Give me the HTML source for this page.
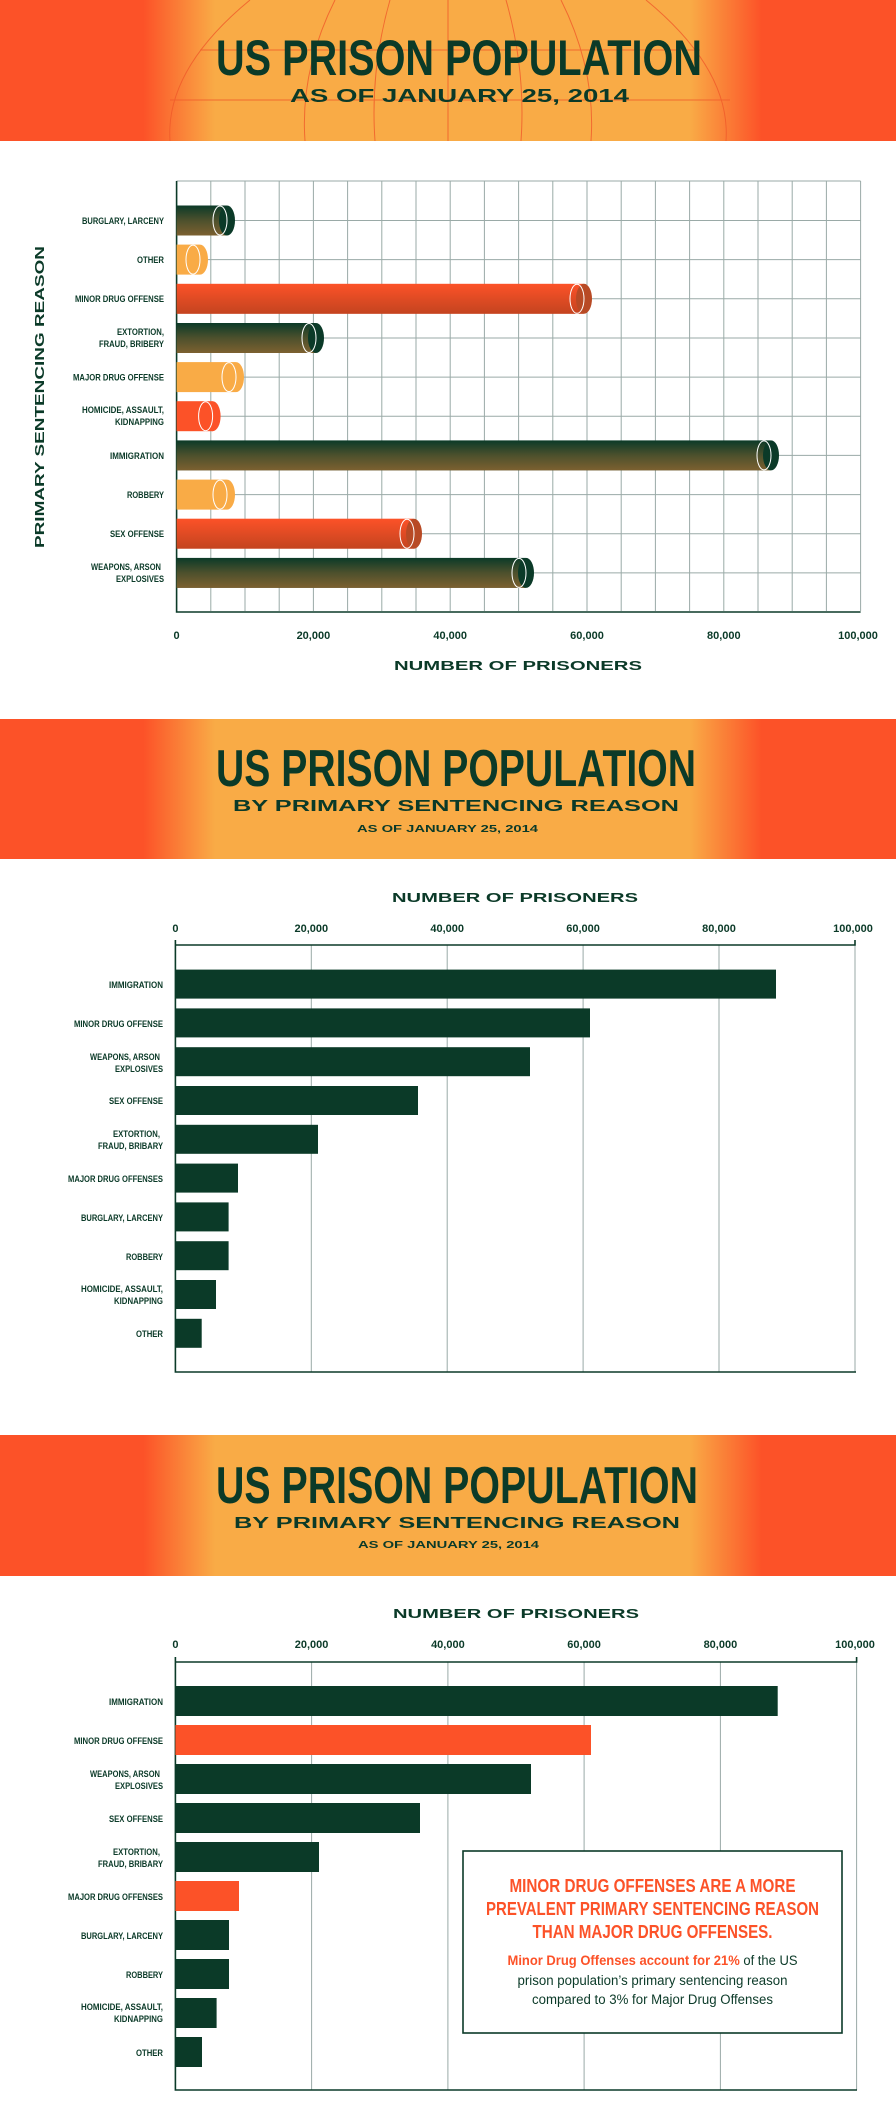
<!DOCTYPE html>
<html><head><meta charset="utf-8"><style>
html,body{margin:0;padding:0;background:#fff;}
svg{display:block;}
.t{font-family:"Liberation Sans Narrow","Liberation Sans",sans-serif;font-weight:bold;fill:#0b3a28;}
.w{font-family:"Liberation Sans",sans-serif;font-weight:bold;fill:#0b3a28;}
.l{font-family:"Liberation Sans Narrow","Liberation Sans",sans-serif;font-weight:bold;fill:#0b3a28;font-size:9.5px;text-anchor:end;}
.k{font-family:"Liberation Sans Narrow","Liberation Sans",sans-serif;font-weight:bold;fill:#0b3a28;font-size:11px;text-anchor:middle;}
</style></head><body>
<svg width="896" height="2123" viewBox="0 0 896 2123" xmlns="http://www.w3.org/2000/svg">
<defs>
<linearGradient id="hdr" x1="0" x2="1" y1="0" y2="0">
<stop offset="0" stop-color="#fc5228"/><stop offset="0.16" stop-color="#fc5228"/>
<stop offset="0.24" stop-color="#f9ab46"/><stop offset="0.77" stop-color="#f9ab46"/>
<stop offset="0.85" stop-color="#fc5228"/><stop offset="1" stop-color="#fc5228"/>
</linearGradient>
<linearGradient id="sh" x1="0" x2="0" y1="0" y2="1">
<stop offset="0" stop-color="#c87a35" stop-opacity="0"/><stop offset="0.5" stop-color="#c87a35" stop-opacity="0.35"/><stop offset="1" stop-color="#c87a35" stop-opacity="0.6"/>
</linearGradient>
<linearGradient id="sh2" x1="0" x2="0" y1="0" y2="1">
<stop offset="0" stop-color="#5a2a10" stop-opacity="0"/><stop offset="1" stop-color="#5a2a10" stop-opacity="0.35"/>
</linearGradient>
</defs>

<!-- SECTION 1 HEADER -->
<rect x="0" y="0" width="896" height="141" fill="url(#hdr)"/>
<g stroke="#f05a2a" stroke-width="1" fill="none" opacity="0.8">
<path d="M448 0 V141"/><path d="M335 0 Q300 70 305 141"/><path d="M561 0 Q596 70 591 141"/>
<path d="M250 0 Q165 70 170 141"/><path d="M646 0 Q731 70 726 141"/>
<path d="M200 50 H700"/><path d="M170 100 H730"/>
<path d="M390 0 Q370 70 375 141"/><path d="M506 0 Q526 70 521 141"/>
</g>
<text class="t" x="216" y="75" font-size="50" textLength="486" lengthAdjust="spacingAndGlyphs">US PRISON POPULATION</text>
<text class="w" x="290" y="102" font-size="18" textLength="339" lengthAdjust="spacingAndGlyphs">AS OF JANUARY 25, 2014</text>

<!-- CHART 1 grid -->
<g stroke="#9aaaa7" stroke-width="1">
<path d="M176.6 181 H860.6"/>
<path d="M210.8 181V611M245 181V611M279.2 181V611M313.4 181V611M347.6 181V611M381.8 181V611M416 181V611M450.2 181V611M484.4 181V611M518.6 181V611M552.8 181V611M587 181V611M621.2 181V611M655.4 181V611M689.6 181V611M723.8 181V611M758 181V611M792.2 181V611M826.4 181V611M860.6 181V611"/>
<path d="M176.6 220.5H860.6M176.6 259.6H860.6M176.6 298.8H860.6M176.6 338H860.6M176.6 377.1H860.6M176.6 416.2H860.6M176.6 455.4H860.6M176.6 494.6H860.6M176.6 533.7H860.6M176.6 572.9H860.6"/>
</g>
<path d="M176.6 181 V612 H860.6" stroke="#0b3a28" stroke-width="1.6" fill="none"/>

<g>
<rect x="176.6" y="205.5" width="50" height="30" fill="#0b3a28"/><rect x="176.6" y="205.5" width="50" height="30" fill="url(#sh)"/>
<ellipse cx="227" cy="220.5" rx="8" ry="15" fill="#0b3a28"/><ellipse cx="220" cy="220.5" rx="7" ry="14.5" fill="none" stroke="#fff" stroke-width="1"/>

<rect x="176.6" y="244.6" width="23" height="30" fill="#f9ab46"/>
<ellipse cx="200" cy="259.6" rx="8" ry="15" fill="#f9ab46"/><ellipse cx="193" cy="259.6" rx="7" ry="14.5" fill="none" stroke="#fff" stroke-width="1"/>

<rect x="176.6" y="283.8" width="407" height="30" fill="#fc5228"/><rect x="176.6" y="283.8" width="407" height="30" fill="url(#sh2)"/>
<ellipse cx="584" cy="298.8" rx="8" ry="15" fill="#b84a25"/><ellipse cx="577" cy="298.8" rx="7" ry="14.5" fill="none" stroke="#fff" stroke-width="1"/>

<rect x="176.6" y="323" width="139" height="30" fill="#0b3a28"/><rect x="176.6" y="323" width="139" height="30" fill="url(#sh)"/>
<ellipse cx="316" cy="338" rx="8" ry="15" fill="#0b3a28"/><ellipse cx="309" cy="338" rx="7" ry="14.5" fill="none" stroke="#fff" stroke-width="1"/>

<rect x="176.6" y="362.1" width="59" height="30" fill="#f9ab46"/>
<ellipse cx="236" cy="377.1" rx="8" ry="15" fill="#f9ab46"/><ellipse cx="229" cy="377.1" rx="7" ry="14.5" fill="none" stroke="#fff" stroke-width="1"/>

<rect x="176.6" y="401.2" width="36" height="30" fill="#fc5228"/>
<ellipse cx="212.6" cy="416.2" rx="8" ry="15" fill="#fc5228"/><ellipse cx="205.6" cy="416.2" rx="7" ry="14.5" fill="none" stroke="#fff" stroke-width="1"/>

<rect x="176.6" y="440.4" width="594" height="30" fill="#0b3a28"/><rect x="176.6" y="440.4" width="594" height="30" fill="url(#sh)"/>
<ellipse cx="771" cy="455.4" rx="8" ry="15" fill="#0b3a28"/><ellipse cx="764" cy="455.4" rx="7" ry="14.5" fill="none" stroke="#fff" stroke-width="1"/>

<rect x="176.6" y="479.6" width="50" height="30" fill="#f9ab46"/>
<ellipse cx="227" cy="494.6" rx="8" ry="15" fill="#f9ab46"/><ellipse cx="220" cy="494.6" rx="7" ry="14.5" fill="none" stroke="#fff" stroke-width="1"/>

<rect x="176.6" y="518.7" width="237" height="30" fill="#fc5228"/><rect x="176.6" y="518.7" width="237" height="30" fill="url(#sh2)"/>
<ellipse cx="414" cy="533.7" rx="8" ry="15" fill="#b84a25"/><ellipse cx="407" cy="533.7" rx="7" ry="14.5" fill="none" stroke="#fff" stroke-width="1"/>

<rect x="176.6" y="557.9" width="349" height="30" fill="#0b3a28"/><rect x="176.6" y="557.9" width="349" height="30" fill="url(#sh)"/>
<ellipse cx="526" cy="572.9" rx="8" ry="15" fill="#0b3a28"/><ellipse cx="519" cy="572.9" rx="7" ry="14.5" fill="none" stroke="#fff" stroke-width="1"/>
</g>

<g>
<text x="164" y="224" class="l" textLength="82" lengthAdjust="spacingAndGlyphs">BURGLARY, LARCENY</text>
<text x="164" y="263" class="l" textLength="27" lengthAdjust="spacingAndGlyphs">OTHER</text>
<text x="164" y="302" class="l" textLength="89" lengthAdjust="spacingAndGlyphs">MINOR DRUG OFFENSE</text>
<text x="164" y="335" class="l" textLength="47" lengthAdjust="spacingAndGlyphs">EXTORTION,</text><text x="164" y="347" class="l" textLength="65" lengthAdjust="spacingAndGlyphs">FRAUD, BRIBERY</text>
<text x="164" y="380.5" class="l" textLength="91" lengthAdjust="spacingAndGlyphs">MAJOR DRUG OFFENSE</text>
<text x="164" y="413" class="l" textLength="82" lengthAdjust="spacingAndGlyphs">HOMICIDE, ASSAULT,</text><text x="164" y="425" class="l" textLength="49" lengthAdjust="spacingAndGlyphs">KIDNAPPING</text>
<text x="164" y="459" class="l" textLength="54" lengthAdjust="spacingAndGlyphs">IMMIGRATION</text>
<text x="164" y="498" class="l" textLength="37" lengthAdjust="spacingAndGlyphs">ROBBERY</text>
<text x="164" y="537" class="l" textLength="54" lengthAdjust="spacingAndGlyphs">SEX OFFENSE</text>
<text x="161" y="570" class="l" textLength="70" lengthAdjust="spacingAndGlyphs">WEAPONS, ARSON</text><text x="164" y="582" class="l" textLength="48" lengthAdjust="spacingAndGlyphs">EXPLOSIVES</text>
</g>
<g>
<text class="k" x="176.6" y="639">0</text><text class="k" x="313.4" y="639">20,000</text><text class="k" x="450.2" y="639">40,000</text><text class="k" x="587" y="639">60,000</text><text class="k" x="723.8" y="639">80,000</text><text class="k" x="858" y="639">100,000</text>
</g>
<text class="w" x="394" y="670" font-size="13" textLength="248" lengthAdjust="spacingAndGlyphs">NUMBER OF PRISONERS</text>
<text class="w" transform="translate(44 548) rotate(-90)" x="0" y="0" font-size="13" textLength="302" lengthAdjust="spacingAndGlyphs">PRIMARY SENTENCING REASON</text>

<!-- SECTION 2 HEADER -->
<rect x="0" y="719" width="896" height="140" fill="url(#hdr)"/>
<text class="t" x="216" y="786" font-size="52" textLength="480" lengthAdjust="spacingAndGlyphs">US PRISON POPULATION</text>
<text class="w" x="233" y="811" font-size="16" textLength="446" lengthAdjust="spacingAndGlyphs">BY PRIMARY SENTENCING REASON</text>
<text class="w" x="357" y="832" font-size="10" textLength="181" lengthAdjust="spacingAndGlyphs">AS OF JANUARY 25, 2014</text>

<text class="w" x="392" y="902" font-size="13" textLength="246" lengthAdjust="spacingAndGlyphs">NUMBER OF PRISONERS</text>
<g>
<text class="k" x="175.4" y="932">0</text><text class="k" x="311.3" y="932">20,000</text><text class="k" x="447.2" y="932">40,000</text><text class="k" x="583.1" y="932">60,000</text><text class="k" x="719" y="932">80,000</text><text class="k" x="853" y="932">100,000</text>
</g>
<g stroke="#9aaaa7" stroke-width="1"><path d="M311.3 945V1372M447.2 945V1372M583.1 945V1372M719 945V1372M855 945V1372"/></g>
<path d="M175.4 940 V1372 H856 M175.4 945 H855 V940" stroke="#0b3a28" stroke-width="1.6" fill="none"/>
<g fill="#0b3a28">
<rect x="175.4" y="969.6" width="600.6" height="29"/>
<rect x="175.4" y="1008.4" width="414.6" height="29"/>
<rect x="175.4" y="1047.2" width="354.6" height="29"/>
<rect x="175.4" y="1086" width="242.6" height="29"/>
<rect x="175.4" y="1124.8" width="142.6" height="29"/>
<rect x="175.4" y="1163.6" width="62.6" height="29"/>
<rect x="175.4" y="1202.4" width="53.2" height="29"/>
<rect x="175.4" y="1241.2" width="53.2" height="29"/>
<rect x="175.4" y="1280" width="40.6" height="29"/>
<rect x="175.4" y="1318.8" width="26.3" height="29"/>
</g>
<g>
<text class="l" x="163" y="988" textLength="54" lengthAdjust="spacingAndGlyphs">IMMIGRATION</text>
<text class="l" x="163" y="1027" textLength="89" lengthAdjust="spacingAndGlyphs">MINOR DRUG OFFENSE</text>
<text class="l" x="160" y="1060" textLength="70" lengthAdjust="spacingAndGlyphs">WEAPONS, ARSON</text><text class="l" x="163" y="1072" textLength="48" lengthAdjust="spacingAndGlyphs">EXPLOSIVES</text>
<text class="l" x="163" y="1104" textLength="54" lengthAdjust="spacingAndGlyphs">SEX OFFENSE</text>
<text class="l" x="160" y="1137" textLength="47" lengthAdjust="spacingAndGlyphs">EXTORTION,</text><text class="l" x="163" y="1149" textLength="65" lengthAdjust="spacingAndGlyphs">FRAUD, BRIBARY</text>
<text class="l" x="163" y="1182" textLength="95" lengthAdjust="spacingAndGlyphs">MAJOR DRUG OFFENSES</text>
<text class="l" x="163" y="1221" textLength="82" lengthAdjust="spacingAndGlyphs">BURGLARY, LARCENY</text>
<text class="l" x="163" y="1260" textLength="37" lengthAdjust="spacingAndGlyphs">ROBBERY</text>
<text class="l" x="163" y="1292" textLength="82" lengthAdjust="spacingAndGlyphs">HOMICIDE, ASSAULT,</text><text class="l" x="163" y="1304" textLength="49" lengthAdjust="spacingAndGlyphs">KIDNAPPING</text>
<text class="l" x="163" y="1337" textLength="27" lengthAdjust="spacingAndGlyphs">OTHER</text>
</g>

<!-- SECTION 3 HEADER -->
<rect x="0" y="1435" width="896" height="141" fill="url(#hdr)"/>
<text class="t" x="216" y="1503" font-size="52" textLength="482" lengthAdjust="spacingAndGlyphs">US PRISON POPULATION</text>
<text class="w" x="234" y="1528" font-size="16" textLength="446" lengthAdjust="spacingAndGlyphs">BY PRIMARY SENTENCING REASON</text>
<text class="w" x="358" y="1548" font-size="10" textLength="181" lengthAdjust="spacingAndGlyphs">AS OF JANUARY 25, 2014</text>

<text class="w" x="393" y="1618" font-size="13" textLength="246" lengthAdjust="spacingAndGlyphs">NUMBER OF PRISONERS</text>
<g>
<text class="k" x="175.4" y="1648">0</text><text class="k" x="311.6" y="1648">20,000</text><text class="k" x="447.9" y="1648">40,000</text><text class="k" x="584.1" y="1648">60,000</text><text class="k" x="720.4" y="1648">80,000</text><text class="k" x="855" y="1648">100,000</text>
</g>
<g stroke="#9aaaa7" stroke-width="1"><path d="M311.6 1662V2090M447.9 1662V2090M584.1 1662V2090M720.4 1662V2090M856.6 1662V2090"/></g>
<path d="M175.4 1657 V2090 H857 M175.4 1662 H856.6 V1657" stroke="#0b3a28" stroke-width="1.6" fill="none"/>
<g>
<rect x="175.4" y="1686" width="602.3" height="30" fill="#0b3a28"/>
<rect x="175.4" y="1725" width="415.6" height="30" fill="#fc5228"/>
<rect x="175.4" y="1764" width="355.6" height="30" fill="#0b3a28"/>
<rect x="175.4" y="1803" width="244.6" height="30" fill="#0b3a28"/>
<rect x="175.4" y="1842" width="143.6" height="30" fill="#0b3a28"/>
<rect x="175.4" y="1881" width="63.6" height="30" fill="#fc5228"/>
<rect x="175.4" y="1920" width="53.6" height="30" fill="#0b3a28"/>
<rect x="175.4" y="1959" width="53.6" height="30" fill="#0b3a28"/>
<rect x="175.4" y="1998" width="41.2" height="30" fill="#0b3a28"/>
<rect x="175.4" y="2037" width="26.6" height="30" fill="#0b3a28"/>
</g>
<g>
<text class="l" x="163" y="1705" textLength="54" lengthAdjust="spacingAndGlyphs">IMMIGRATION</text>
<text class="l" x="163" y="1744" textLength="89" lengthAdjust="spacingAndGlyphs">MINOR DRUG OFFENSE</text>
<text class="l" x="160" y="1777" textLength="70" lengthAdjust="spacingAndGlyphs">WEAPONS, ARSON</text><text class="l" x="163" y="1789" textLength="48" lengthAdjust="spacingAndGlyphs">EXPLOSIVES</text>
<text class="l" x="163" y="1822" textLength="54" lengthAdjust="spacingAndGlyphs">SEX OFFENSE</text>
<text class="l" x="160" y="1855" textLength="47" lengthAdjust="spacingAndGlyphs">EXTORTION,</text><text class="l" x="163" y="1867" textLength="65" lengthAdjust="spacingAndGlyphs">FRAUD, BRIBARY</text>
<text class="l" x="163" y="1900" textLength="95" lengthAdjust="spacingAndGlyphs">MAJOR DRUG OFFENSES</text>
<text class="l" x="163" y="1939" textLength="82" lengthAdjust="spacingAndGlyphs">BURGLARY, LARCENY</text>
<text class="l" x="163" y="1978" textLength="37" lengthAdjust="spacingAndGlyphs">ROBBERY</text>
<text class="l" x="163" y="2010" textLength="82" lengthAdjust="spacingAndGlyphs">HOMICIDE, ASSAULT,</text><text class="l" x="163" y="2022" textLength="49" lengthAdjust="spacingAndGlyphs">KIDNAPPING</text>
<text class="l" x="163" y="2056" textLength="27" lengthAdjust="spacingAndGlyphs">OTHER</text>
</g>
<rect x="463" y="1851" width="379" height="182" fill="#fff" stroke="#0b3a28" stroke-width="1.6"/>
<g font-family="'Liberation Sans Narrow','Liberation Sans',sans-serif" font-weight="bold" fill="#fc5228" text-anchor="middle" font-size="18">
<text x="652.5" y="1892" textLength="286" lengthAdjust="spacingAndGlyphs">MINOR DRUG OFFENSES ARE A MORE</text>
<text x="652.5" y="1915" textLength="333" lengthAdjust="spacingAndGlyphs">PREVALENT PRIMARY SENTENCING REASON</text>
<text x="652.5" y="1938" textLength="240" lengthAdjust="spacingAndGlyphs">THAN MAJOR DRUG OFFENSES.</text>
</g>
<g font-family="'Liberation Sans Narrow','Liberation Sans',sans-serif" font-size="13.5" fill="#0b3a28" text-anchor="middle">
<text x="652.5" y="1965" textLength="290" lengthAdjust="spacingAndGlyphs"><tspan fill="#fc5228" font-weight="bold">Minor Drug Offenses account for 21%</tspan> of the US</text>
<text x="652.5" y="1985" textLength="270" lengthAdjust="spacingAndGlyphs">prison population’s primary sentencing reason</text>
<text x="652.5" y="2004" textLength="241" lengthAdjust="spacingAndGlyphs">compared to 3% for Major Drug Offenses</text>
</g>
</svg>
</body></html>
